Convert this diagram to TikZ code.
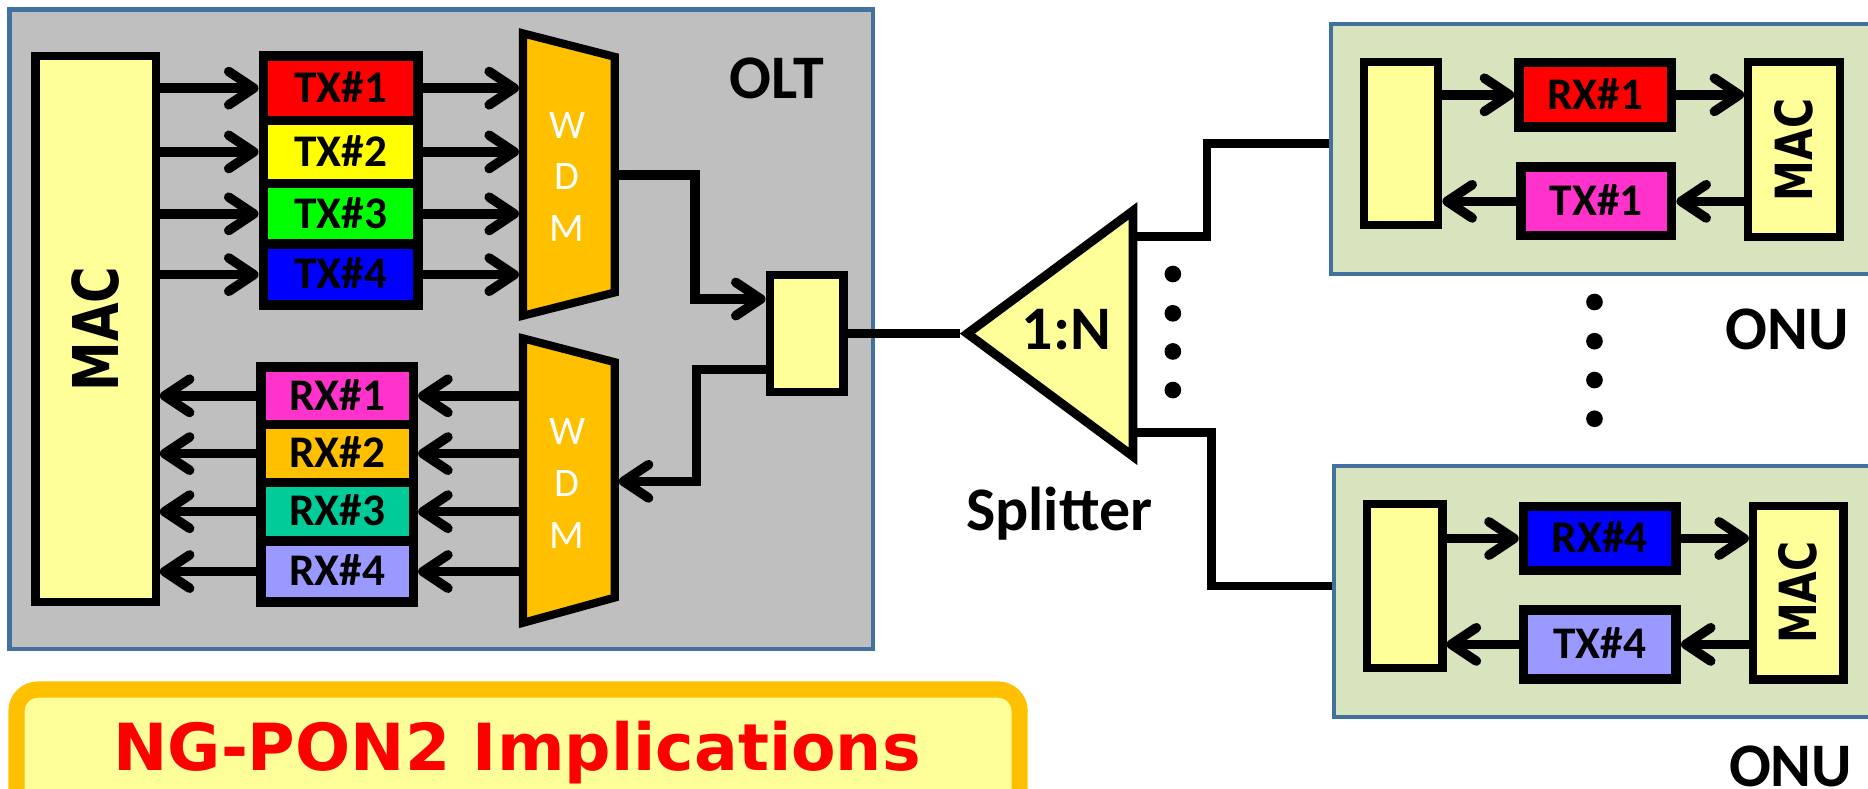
\documentclass[tikz,border=0pt]{standalone}
\usepackage{graphicx}
\usepackage{fontspec}
\setmainfont{Carlito}
\newfontfamily\djfont{DejaVu Sans}
\usetikzlibrary{arrows.meta}
\definecolor{oltgray}{HTML}{BFBFBF}
\definecolor{frameblue}{HTML}{41719C}
\definecolor{lyel}{HTML}{FFFF99}
\definecolor{wdmor}{HTML}{FFC000}
\definecolor{onugreen}{HTML}{D7E4BD}
\definecolor{cred}{HTML}{FF0000}
\definecolor{cyel}{HTML}{FFFF00}
\definecolor{cgreen}{HTML}{00FF00}
\definecolor{cblue}{HTML}{0000FF}
\definecolor{cmag}{HTML}{FF33CC}
\definecolor{cteal}{HTML}{00CC99}
\definecolor{clav}{HTML}{9999FF}
\tikzset{
  container/.style={draw=frameblue, line width=3.5pt, inner sep=0pt},
  ybox/.style={draw, line width=6.8pt, fill=lyel, inner sep=0pt},
  cell/.style={draw, line width=8pt, inner sep=0pt, font=\bfseries\fontsize{38}{40}\selectfont, text height=24pt, text depth=0pt},
  wire/.style={line width=7pt},
  arr/.style={line width=8pt, -{Straight Barb[length=21pt,width=28pt,round]}},
  lbl/.style={inner sep=0pt, anchor=base, font=\bfseries\fontsize{52}{54}\selectfont},
  wdmtxt/.style={inner sep=0pt, anchor=base, text=white, font=\fontsize{34}{36}\selectfont},
  wdmshape/.style={line width=6.8pt, fill=wdmor},
  mactxt/.style={inner sep=0pt, rotate=90, font=\djfont\bfseries\fontsize{53}{55}\selectfont, text height=38.5pt, text depth=0pt},
  omactxt/.style={mactxt, font=\djfont\bfseries\fontsize{43}{45}\selectfont, text height=31.3pt},
  dot/.style={circle, fill, inner sep=0pt, minimum size=14pt},
}
\begin{document}
\begin{tikzpicture}[x=1pt,y=-1pt]
\useasboundingbox (0,0) rectangle (1568,662);
\clip (0,0) rectangle (1568,662);
\fill[white] (0,0) rectangle (1568,662);

% ---------------- OLT ----------------
\node[container, fill=oltgray, minimum width=725pt, minimum height=537pt] (olt) at (370.5,276.5) {};
\node[lbl] (oltT) at (652,83) {OLT};
\node[ybox, minimum width=101pt, minimum height=458pt] (mac) at (80.3,276.3) {};
\node[mactxt] (macT) at (mac.center) {\scalebox{0.79}[1]{MAC}};

\node[cell, fill=cred,   minimum width=130pt, minimum height=54pt] (tx1) at (286,74) {TX\#1};
\node[cell, fill=cyel,   minimum width=130pt, minimum height=53pt] (tx2) at (286,127.5) {TX\#2};
\node[cell, fill=cgreen, minimum width=130pt, minimum height=51pt] (tx3) at (286,179.5) {TX\#3};
\node[cell, fill=cblue,  minimum width=130pt, minimum height=51pt] (tx4) at (286,230.5) {TX\#4};

\node[cell, fill=cmag,  minimum width=128pt, minimum height=48.5pt] (rx1) at (283,332.25) {RX\#1};
\node[cell, fill=wdmor, minimum width=128pt, minimum height=48.5pt] (rx2) at (283,380.75) {RX\#2};
\node[cell, fill=cteal, minimum width=128pt, minimum height=49pt] (rx3) at (283,429.5) {RX\#3};
\node[cell, fill=clav,  minimum width=128pt, minimum height=51.5pt] (rx4) at (283,479.75) {RX\#4};

% WDMs
\draw[wdmshape] (439,28) -- (516,47.7) -- (516,245.5) -- (439,265) -- cycle;
\coordinate (wdmuW) at (435.6,147);
\coordinate (wdmuE) at (519.4,147);
\node[wdmtxt] (wuW) at (476,116.6) {W};
\node[wdmtxt] (wuD) at (476,159) {D};
\node[wdmtxt] (wuM) at (476,203) {M};

\draw[wdmshape] (439,284) -- (516,304) -- (516,501.6) -- (439,522.8) -- cycle;
\coordinate (wdmlW) at (435.6,404);
\coordinate (wdmlE) at (519.4,404);
\node[wdmtxt] (wlW) at (476,373.5) {W};
\node[wdmtxt] (wlD) at (476,417) {D};
\node[wdmtxt] (wlM) at (476,460) {M};

\foreach \t in {tx1,tx2,tx3,tx4}{
  \draw[arr] (mac.east |- \t) -- (\t.west);
  \draw[arr] (\t.east) -- (wdmuW |- \t);
}
\foreach \r in {rx1,rx2,rx3,rx4}{
  \draw[arr] (wdmlW |- \r) -- (\r.east);
  \draw[arr] (\r.west) -- (mac.east |- \r);
}

% coupler
\node[ybox, minimum width=62pt, minimum height=98pt] (cpl) at (677,280) {};
\draw[arr] (wdmuE) -- ++(64,0) |- ([yshift=29pt]cpl.west);
\draw[arr] ([yshift=-30pt]cpl.west) -- ++(-58,0) |- (wdmlE);

% ---------------- Splitter ----------------
\draw[line width=7.5pt, fill=lyel] (812,280) -- (951,177) -- (951,383) -- cycle;
\coordinate (splTip) at (806,280);
\coordinate (splR1) at (954,198.6);
\coordinate (splR2) at (954,363);
\node[lbl] (oneN) at (895,293.6) {1:N};
\node[lbl] (splT) at (889,445.5) {Splitter};
\draw[wire] (cpl.east) -- (splTip);

\node[dot] (sd1) at (984.5,230) {};
\node[dot] (sd2) at (984.5,263) {};
\node[dot] (sd3) at (984.5,295) {};
\node[dot] (sd4) at (984.5,327.4) {};

% ---------------- ONU 1 ----------------
\node[container, fill=onugreen, minimum width=503pt, minimum height=210pt] (onu1) at (1368.5,125) {};
\node[ybox, minimum width=62.7pt, minimum height=137pt] (ocpl1) at (1176,120.4) {};
\node[cell, fill=cred, minimum width=128pt, minimum height=54pt] (orx1) at (1339,79.6) {RX\#1};
\node[cell, fill=cmag, minimum width=126.4pt, minimum height=57.5pt] (otx1) at (1340,169) {TX\#1};
\node[ybox, line width=7pt, minimum width=77pt, minimum height=147pt] (omac1) at (1506,125.7) {};
\node[omactxt] (omacT1) at (omac1.center) {\scalebox{0.8}[1]{MAC}};
\draw[arr] (ocpl1.east |- orx1) -- (orx1.west);
\draw[arr] (orx1.east) -- (omac1.west |- orx1);
\draw[arr] (omac1.west |- otx1) -- (otx1.east);
\draw[arr] (otx1.west) -- (ocpl1.east |- otx1);

% ---------------- ONU 2 ----------------
\node[container, fill=onugreen, minimum width=500pt, minimum height=211pt] (onu2) at (1370,496.5) {};
\node[ybox, minimum width=63.7pt, minimum height=137.7pt] (ocpl2) at (1179,492) {};
\node[cell, fill=cblue, minimum width=128pt, minimum height=54pt] (orx4) at (1342.8,452) {RX\#4};
\node[cell, fill=clav, minimum width=128pt, minimum height=57.7pt] (otx4) at (1343,540.9) {TX\#4};
\node[ybox, line width=7pt, minimum width=76pt, minimum height=146pt] (omac2) at (1509.5,497.5) {};
\node[omactxt] (omacT2) at (omac2.center) {\scalebox{0.8}[1]{MAC}};
\draw[arr] (ocpl2.east |- orx4) -- (orx4.west);
\draw[arr] (orx4.east) -- (omac2.west |- orx4);
\draw[arr] (omac2.west |- otx4) -- (otx4.east);
\draw[arr] (otx4.west) -- (ocpl2.east |- otx4);

% splitter to ONUs
\draw[wire] (splR1) -- ++(59,0) |- (onu1.west |- ocpl1);
\draw[wire] (splR2) -- ++(63,0) |- (onu2.west |- ocpl2);

\node[dot] (od1) at (1338.4,253.5) {};
\node[dot] (od2) at (1338.4,286.4) {};
\node[dot] (od3) at (1338.4,319) {};
\node[dot] (od4) at (1338.4,351.5) {};

\node[lbl] (onuT1) at (1500,293.6) {ONU};
\node[lbl] (onuT2) at (1503,660) {ONU};

% ---------------- NG-PON2 banner ----------------
\node[draw=wdmor, line width=13.6pt, fill=lyel, rounded corners=18pt, inner sep=0pt,
      minimum width=842pt, minimum height=141pt] (ng) at (434.85,649.3) {};
\node[inner sep=0pt, anchor=base, text=cred, font=\djfont\bfseries\fontsize{54.5}{56}\selectfont] (ngT) at (434,647) {NG-PON2 Implications};
\end{tikzpicture}
\end{document}
